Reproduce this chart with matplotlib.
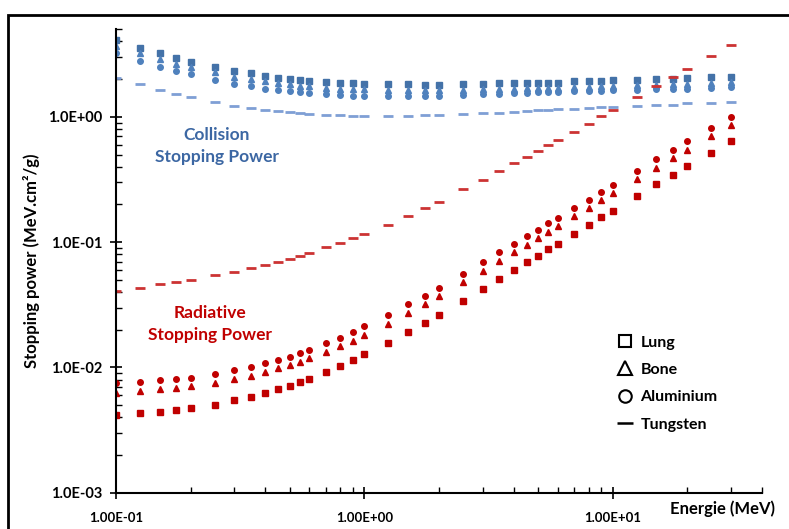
import matplotlib.pyplot as plt
from matplotlib.lines import Line2D
from matplotlib.patches import Rectangle
from matplotlib.ticker import LogLocator, FixedLocator, NullFormatter, FuncFormatter

plt.rcParams['font.family'] = ['Lato', 'DejaVu Sans']
plt.rcParams['font.weight'] = 'bold'

# Energies (MeV)
energie = [0.1, 0.125, 0.15, 0.175, 0.2, 0.25, 0.3, 0.35, 0.4, 0.45, 0.5, 0.55, 0.6,
           0.7, 0.8, 0.9, 1.0, 1.25, 1.5, 1.75, 2, 2.5, 3, 3.5, 4, 4.5, 5, 5.5, 6,
           7, 8, 9, 10, 12.5, 15, 17.5, 20, 25, 30]

# Collision stopping power (MeV.cm2/g)
col_lung = [4.11, 3.56, 3.23, 2.96, 2.75, 2.51, 2.33, 2.22, 2.13, 2.05, 2.00, 1.96, 1.93,
            1.90, 1.87, 1.85, 1.84, 1.82, 1.82, 1.80, 1.80, 1.83, 1.84, 1.85, 1.86, 1.86,
            1.88, 1.88, 1.88, 1.92, 1.93, 1.94, 1.97, 1.98, 2.00, 2.00, 2.03, 2.07, 2.08]
col_bone = [3.70, 3.22, 2.89, 2.65, 2.50, 2.27, 2.10, 2.00, 1.92, 1.87, 1.83, 1.78, 1.76,
            1.71, 1.68, 1.67, 1.66, 1.65, 1.64, 1.64, 1.64, 1.65, 1.66, 1.67, 1.68, 1.69,
            1.70, 1.71, 1.71, 1.73, 1.74, 1.75, 1.77, 1.79, 1.81, 1.83, 1.84, 1.87, 1.89]
col_alu = [3.22, 2.79, 2.51, 2.32, 2.18, 1.97, 1.84, 1.75, 1.67, 1.63, 1.60, 1.57, 1.54,
           1.51, 1.49, 1.47, 1.47, 1.46, 1.46, 1.46, 1.47, 1.49, 1.51, 1.53, 1.55, 1.56,
           1.57, 1.58, 1.58, 1.60, 1.61, 1.62, 1.63, 1.64, 1.66, 1.67, 1.67, 1.71, 1.73]
col_tung = [2.04, 1.82, 1.64, 1.52, 1.43, 1.32, 1.23, 1.18, 1.14, 1.11, 1.09, 1.07, 1.06,
            1.04, 1.03, 1.02, 1.02, 1.02, 1.02, 1.03, 1.04, 1.06, 1.07, 1.08, 1.10, 1.11,
            1.13, 1.14, 1.15, 1.16, 1.18, 1.19, 1.20, 1.22, 1.25, 1.25, 1.28, 1.30, 1.32]

# Radiative stopping power (MeV.cm2/g)
rad_lung = [0.00416, 0.00432, 0.00442, 0.00461, 0.00473, 0.00503, 0.00545, 0.00580,
            0.00624, 0.00667, 0.00714, 0.00769, 0.00812, 0.00919, 0.0103, 0.0114, 0.0127,
            0.0157, 0.0192, 0.0228, 0.0264, 0.0342, 0.0424, 0.0509, 0.0594, 0.0688, 0.0778,
            0.0875, 0.097, 0.117, 0.137, 0.158, 0.178, 0.233, 0.290, 0.343, 0.403, 0.519, 0.64]
rad_bone = [0.00624, 0.00647, 0.00667, 0.00689, 0.0071, 0.0075, 0.00802, 0.00859,
            0.00924, 0.00982, 0.01045, 0.0111, 0.0118, 0.0133, 0.0147, 0.0164, 0.0182,
            0.0224, 0.0272, 0.0321, 0.0373, 0.0479, 0.059, 0.071, 0.0827, 0.0953, 0.108,
            0.121, 0.134, 0.161, 0.188, 0.217, 0.245, 0.318, 0.394, 0.47, 0.544, 0.705, 0.863]
rad_alu = [0.00745, 0.00769, 0.00787, 0.00807, 0.00828, 0.00885, 0.00946, 0.0101,
           0.0108, 0.0115, 0.0122, 0.0131, 0.0139, 0.0156, 0.0173, 0.0192, 0.0213,
           0.0262, 0.0318, 0.0375, 0.0434, 0.0562, 0.0688, 0.0827, 0.097, 0.112, 0.126,
           0.141, 0.157, 0.187, 0.218, 0.253, 0.284, 0.370, 0.459, 0.544, 0.636, 0.817, 1.0]
rad_tung = [0.0408, 0.0434, 0.0461, 0.0482, 0.0503, 0.0542, 0.0583, 0.0620, 0.0655,
            0.0697, 0.0736, 0.0778, 0.0817, 0.0907, 0.0989, 0.108, 0.117, 0.138, 0.163,
            0.188, 0.210, 0.264, 0.316, 0.368, 0.426, 0.479, 0.538, 0.597, 0.652, 0.764,
            0.885, 1.013, 1.137, 1.44, 1.77, 2.08, 2.41, 3.08, 3.75]

bleu_fonce = '#4472A8'
bleu = '#4F81BD'
bleu_clair = '#7F9FD5'
rouge = '#C00000'
rouge_clair = '#CC3333'

fig = plt.figure(figsize=(7.89, 5.29), dpi=100)
ax = fig.add_axes([0.147, 0.0686, 0.819, 0.876])

# Collision
ax.plot(energie, col_lung, 's', color=bleu_fonce, ms=4)
ax.plot(energie, col_bone, '^', color=bleu, ms=4.5)
ax.plot(energie, col_alu, 'o', color=bleu, ms=4)
ax.plot(energie, col_tung, '_', color=bleu_clair, ms=7, mew=2)

# Radiatif
ax.plot(energie, rad_lung, 's', color=rouge, ms=4)
ax.plot(energie, rad_bone, '^', color=rouge, ms=4.5)
ax.plot(energie, rad_alu, 'o', color=rouge, ms=4)
ax.plot(energie, rad_tung, '_', color=rouge_clair, ms=7, mew=2)

ax.set_xscale('log')
ax.set_yscale('log')
ax.set_xlim(0.1, 40)
ax.set_ylim(1e-3, 5)

ax.spines['top'].set_visible(False)
ax.spines['right'].set_visible(False)
ax.spines['left'].set_linewidth(1.5)
ax.spines['bottom'].set_linewidth(1.5)

ax.xaxis.set_major_locator(FixedLocator([0.1, 1, 10]))
ax.xaxis.set_minor_locator(LogLocator(base=10, subs=[2, 3, 4, 5, 6, 7, 8, 9]))
ax.yaxis.set_major_locator(FixedLocator([1e-3, 1e-2, 1e-1, 1]))
ax.yaxis.set_minor_locator(LogLocator(base=10, subs=[2, 3, 4, 5, 6, 7, 8, 9]))
ax.xaxis.set_minor_formatter(NullFormatter())
ax.yaxis.set_minor_formatter(NullFormatter())
ax.xaxis.set_major_formatter(FuncFormatter(lambda v, p: '%.2E' % v))
ax.yaxis.set_major_formatter(FuncFormatter(lambda v, p: '%.1E' % v))

ax.tick_params(which='major', direction='inout', length=8, width=1.2, labelsize=9.5)
ax.tick_params(which='minor', direction='in', length=4, width=1)
ax.tick_params(axis='x', which='major', pad=10)
ax.tick_params(axis='y', which='major', pad=6, labelsize=10.5)

ax.set_ylabel('Stopping power (MeV.cm²/g)', fontsize=12, fontweight='bold', labelpad=6)
fig.text(0.982, 0.022, 'Energie (MeV)', fontsize=12, fontweight='bold', ha='right', va='bottom')

ax.text(0.255, 0.59, 'Collision\nStopping Power', color='#3C67A3', fontsize=12.5,
        fontweight='bold', ha='center', va='center', linespacing=1.45)
ax.text(0.24, 0.0222, 'Radiative\nStopping Power', color=rouge, fontsize=12.5,
        fontweight='bold', ha='center', va='center', linespacing=1.45)

handles = [
    Line2D([], [], marker='s', ls='none', mfc='none', mec='black', ms=9, mew=1.5),
    Line2D([], [], marker='^', ls='none', mfc='none', mec='black', ms=10, mew=1.5),
    Line2D([], [], marker='o', ls='none', mfc='none', mec='black', ms=9, mew=1.5),
    Line2D([], [], marker='_', ls='none', color='black', ms=11, mew=1.8),
]
ax.legend(handles, ['Lung', 'Bone', 'Aluminium', 'Tungsten'], loc='upper left',
          bbox_to_anchor=(0.75, 0.37), frameon=False, fontsize=11.5,
          labelspacing=0.82, handletextpad=0.4, handlelength=1.2)

# cadre extérieur
fig.patches.append(Rectangle((8 / 789, -0.1), 1.2, 1 - 15 / 529 + 0.1,
                             transform=fig.transFigure, fill=False, lw=2,
                             edgecolor='black'))

fig.savefig('out.png', dpi=100)
